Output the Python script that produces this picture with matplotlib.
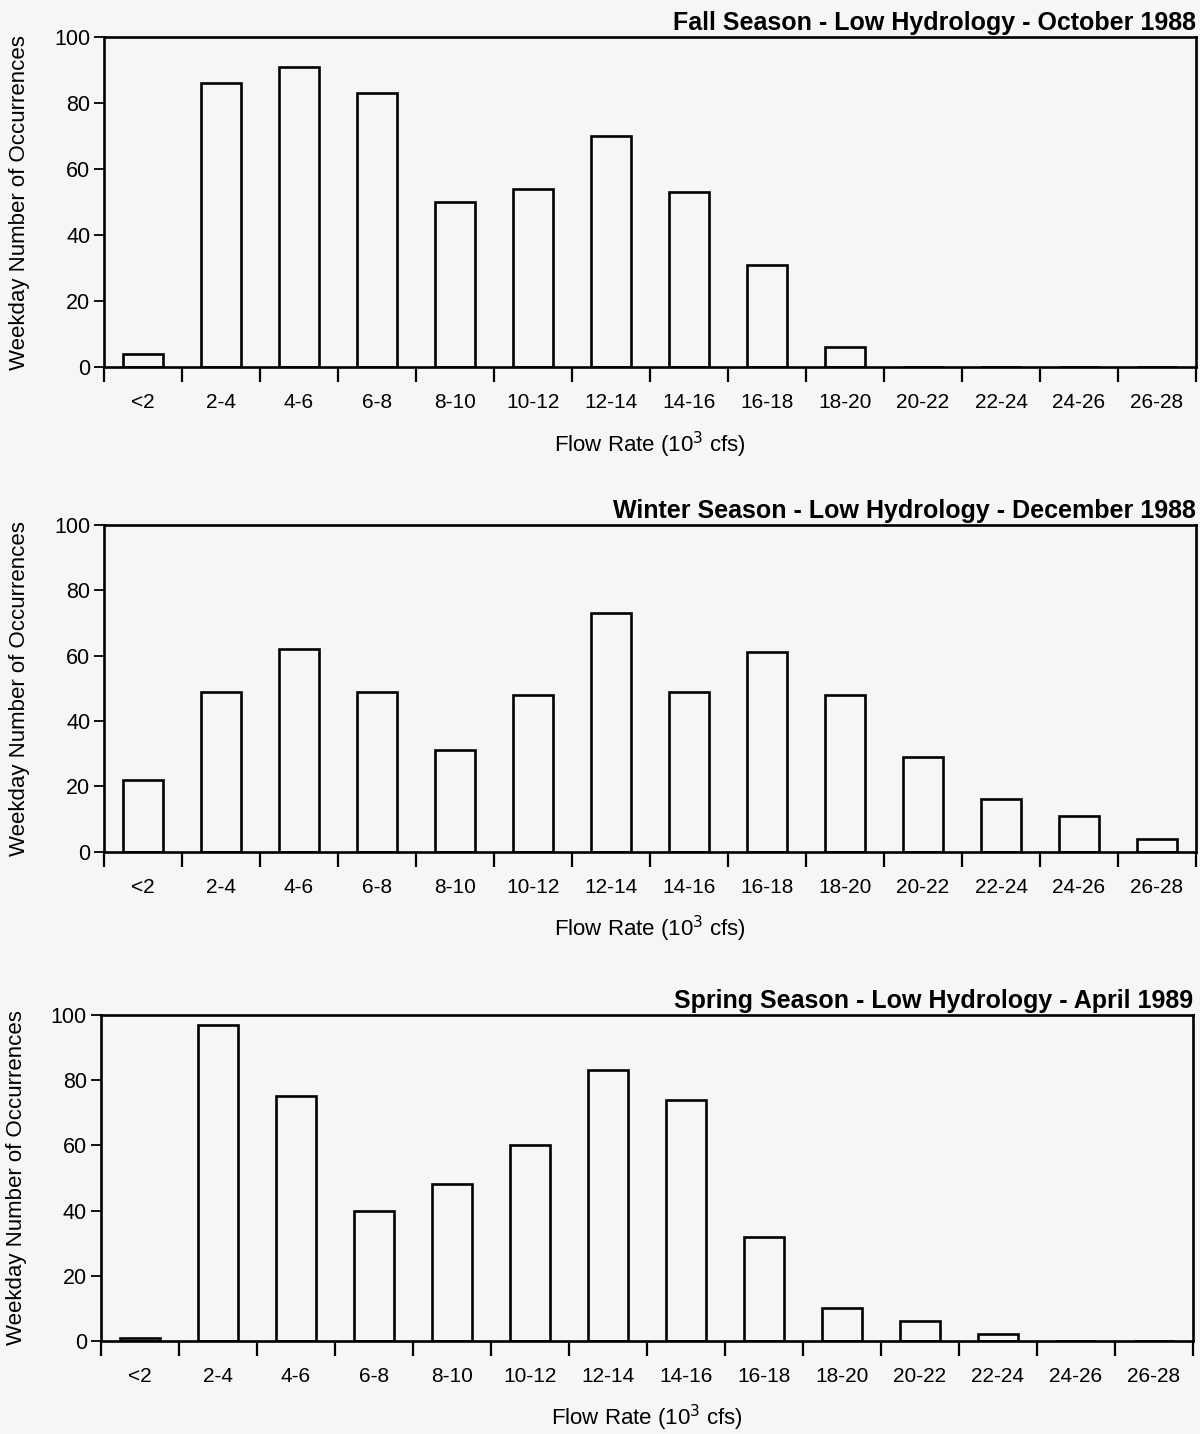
import matplotlib.pyplot as plt
import numpy as np

plt.rcParams['font.family'] = ['Liberation Sans', 'DejaVu Sans']
plt.rcParams['font.size'] = 14

bg = '#f6f6f6'

categories = ['<2', '2-4', '4-6', '6-8', '8-10', '10-12', '12-14',
              '14-16', '16-18', '18-20', '20-22', '22-24', '24-26', '26-28']

fall = [4, 86, 91, 83, 50, 54, 70, 53, 31, 6, 0, 0, 0, 0]
winter = [22, 49, 62, 49, 31, 48, 73, 49, 61, 48, 29, 16, 11, 4]
spring = [1, 97, 75, 40, 48, 60, 83, 74, 32, 10, 6, 2, 0, 0]

titles = [
    'Fall Season - Low Hydrology - October 1988',
    'Winter Season - Low Hydrology - December 1988',
    'Spring Season - Low Hydrology - April 1989',
]
series = [fall, winter, spring]

# axes rectangles [left, bottom, width, height] in figure fractions
rects = [
    [0.0867, 0.744, 0.910, 0.230],
    [0.0867, 0.406, 0.910, 0.228],
    [0.0840, 0.0649, 0.910, 0.2273],
]

fig = plt.figure(figsize=(12, 14.34), dpi=100, facecolor=bg)

n = len(categories)
centers = np.arange(n) + 0.5

for rect, vals, title in zip(rects, series, titles):
    ax = fig.add_axes(rect)
    ax.set_facecolor(bg)
    ax.bar(centers, vals, width=0.52, facecolor='none', edgecolor='black',
           linewidth=1.9, zorder=2)
    ax.set_xlim(0, n)
    ax.set_ylim(0, 100)

    # boundaries as major ticks, labels on minor ticks at bin centers
    ax.set_xticks(np.arange(n + 1))
    ax.set_xticklabels([])
    ax.set_xticks(centers, minor=True)
    ax.set_xticklabels(categories, minor=True)
    ax.tick_params(axis='x', which='major', direction='out', length=11, width=1.6)
    ax.tick_params(axis='x', which='minor', length=0, pad=19, labelsize=15)

    ax.set_yticks([0, 20, 40, 60, 80, 100])
    ax.tick_params(axis='y', direction='out', length=7, width=1.3, pad=3, labelsize=15.5)

    for sp in ax.spines.values():
        sp.set_linewidth(1.9)

    ax.set_ylabel('Weekday Number of Occurrences', fontsize=16)
    ax.yaxis.set_label_coords(-0.068, 0.5)
    ax.set_xlabel('Flow Rate (10$^3$ cfs)', fontsize=16)
    ax.xaxis.set_label_coords(0.5, -0.19)
    ax.set_title(title, loc='right', fontweight='bold', fontsize=18, pad=5)

fig.savefig('out.png', dpi=100, facecolor=bg)
